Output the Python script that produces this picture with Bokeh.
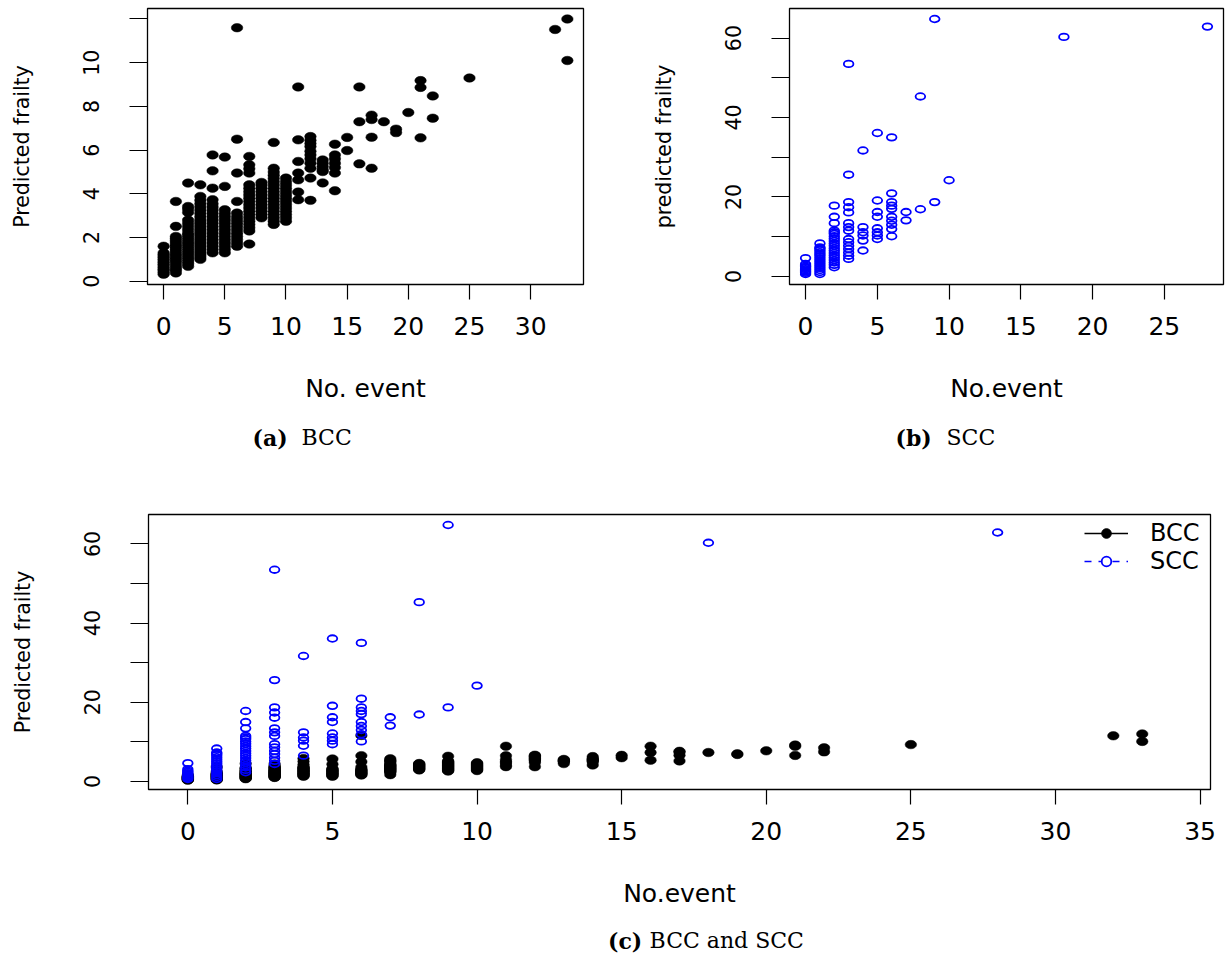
from bokeh.plotting import figure
from bokeh.models import Range1d, FixedTicker, Legend, LegendItem, ColumnDataSource
from bokeh.layouts import column, row
from bokeh.embed import file_html
from bokeh.resources import INLINE
from bokeh.core.properties import value

# ---------------- data ----------------
bcc_events = ([0] * 15 + [1] * 19 + [2] * 24 + [3] * 27 + [4] * 20 + [5] * 16 +
              [6] * 15 + [7] * 20 + [8] * 12 + [9] * 19 + [10] * 14 + [11] * 7 +
              [12] * 11 + [13] * 6 + [14] * 7 + [15] * 2 + [16] * 3 + [17] * 4 +
              [18] * 1 + [19] * 2 + [20] * 1 + [21] * 3 + [22] * 2 + [25] * 1 +
              [32] * 1 + [33] * 2)
bcc_frailty = [
    0.32, 0.40, 0.48, 0.55, 0.62, 0.70, 0.78, 0.85, 0.92, 1.00, 1.08, 1.15, 1.22, 1.30, 1.60,
    0.38, 0.50, 0.60, 0.72, 0.85, 0.95, 1.05, 1.15, 1.25, 1.35, 1.45, 1.55, 1.65, 1.75, 1.85, 1.95, 2.05, 2.51, 3.65,
    0.68, 0.80, 0.90, 1.00, 1.10, 1.20, 1.30, 1.40, 1.50, 1.60, 1.70, 1.80, 1.90, 2.00, 2.10, 2.20, 2.35, 2.50, 2.65, 2.80, 3.15, 3.30, 3.42, 4.49,
    1.00, 1.10, 1.20, 1.30, 1.40, 1.50, 1.60, 1.70, 1.80, 1.90, 2.00, 2.10, 2.20, 2.30, 2.40, 2.50, 2.60, 2.70, 2.80, 2.95, 3.10, 3.25, 3.40, 3.55, 3.70, 3.88, 4.41,
    1.30, 1.45, 1.60, 1.75, 1.90, 2.05, 2.20, 2.35, 2.50, 2.65, 2.80, 2.95, 3.10, 3.25, 3.40, 3.55, 3.73, 4.26, 5.05, 5.78,
    1.30, 1.45, 1.60, 1.75, 1.90, 2.05, 2.20, 2.35, 2.50, 2.65, 2.80, 2.95, 3.10, 3.27, 4.34, 5.68,
    1.60, 1.75, 1.90, 2.05, 2.20, 2.35, 2.50, 2.65, 2.80, 2.95, 3.12, 3.65, 4.95, 6.50, 11.60,
    1.70, 2.30, 2.45, 2.60, 2.75, 2.90, 3.05, 3.20, 3.35, 3.50, 3.65, 3.80, 3.95, 4.10, 4.25, 4.41, 4.95, 5.15, 5.33, 5.71,
    2.90, 3.05, 3.20, 3.35, 3.50, 3.65, 3.80, 3.95, 4.10, 4.25, 4.40, 4.52,
    2.60, 2.75, 2.90, 3.05, 3.20, 3.35, 3.50, 3.65, 3.80, 3.95, 4.10, 4.25, 4.40, 4.55, 4.70, 4.85, 5.00, 5.17, 6.35,
    2.74, 2.90, 3.05, 3.20, 3.35, 3.50, 3.65, 3.80, 3.95, 4.10, 4.25, 4.40, 4.55, 4.72,
    3.73, 4.08, 4.64, 4.95, 5.48, 6.47, 8.89,
    3.70, 4.72, 5.17, 5.40, 5.60, 5.78, 5.95, 6.16, 6.30, 6.45, 6.62,
    4.50, 5.02, 5.10, 5.25, 5.40, 5.55,
    4.14, 4.95, 5.20, 5.40, 5.60, 5.78, 6.27,
    5.98, 6.58,
    5.37, 7.30, 8.89,
    5.17, 6.59, 7.40, 7.60,
    7.30,
    6.80, 6.96,
    7.72,
    6.56, 8.87, 9.18,
    7.46, 8.48,
    9.30,
    11.52,
    10.10, 12.00,
]

scc_events = ([0] * 10 + [1] * 16 + [2] * 20 + [3] * 15 + [4] * 6 + [5] * 8 +
              [6] * 10 + [7] * 2 + [8] * 2 + [9] * 2 + [10] * 1 + [18] * 1 + [28] * 1)
scc_frailty = [
    0.60, 0.90, 1.20, 1.50, 1.80, 2.10, 2.40, 2.70, 3.10, 4.60,
    0.60, 1.10, 1.60, 2.10, 2.60, 3.10, 3.60, 4.10, 4.60, 5.10, 5.60, 6.10, 6.60, 7.00, 7.30, 8.30,
    2.30, 2.90, 3.50, 4.10, 4.70, 5.30, 5.90, 6.50, 7.10, 7.70, 8.30, 8.90, 9.50, 10.10, 10.70, 11.10, 11.50, 13.40, 15.00, 17.80,
    4.40, 5.20, 6.00, 6.90, 7.70, 8.60, 9.40, 11.50, 12.40, 13.40, 16.10, 17.40, 18.70, 25.60, 53.50,
    6.50, 9.00, 10.30, 11.10, 12.40, 31.70,
    9.40, 10.30, 11.10, 12.10, 15.00, 16.20, 19.10, 36.10,
    10.10, 11.90, 13.00, 14.00, 15.00, 17.00, 17.80, 18.70, 20.90, 35.00,
    14.10, 16.20,
    16.90, 45.30,
    18.70, 64.80,
    24.20,
    60.30,
    62.90,
]

a_xticks = [0, 5, 10, 15, 20, 25, 30]
a_yticks = [0, 2, 4, 6, 8, 10, 12]
a_hidden_ylabels = [12]
b_xticks = [0, 5, 10, 15, 20, 25]
b_yticks = [0, 10, 20, 30, 40, 50, 60]
c_xticks = [0, 5, 10, 15, 20, 25, 30, 35]
c_yticks = [0, 10, 20, 30, 40, 50, 60]
hidden_ylabels = [10, 30, 50]
legend_labels = ["BCC", "SCC"]

assert len(bcc_events) == len(bcc_frailty)
assert len(scc_events) == len(scc_frailty)

bcc_src = ColumnDataSource(dict(x=bcc_events, y=bcc_frailty))
scc_src = ColumnDataSource(dict(x=scc_events, y=scc_frailty))

SANS = "DejaVu Sans"
SERIF = "DejaVu Serif"
FS_H = "25px"     # horizontal axis texts
FS_V = "20.5px"   # vertical (rotated) axis texts
BLUE = "#0000FF"


def style_fig(p, xlabel, ylabel, xticks, yticks, hide=()):
    p.grid.visible = False
    p.outline_line_color = "black"
    p.outline_line_width = 1.3
    p.background_fill_color = "white"
    p.border_fill_color = "white"
    for ax in (p.xaxis, p.yaxis):
        ax.axis_line_color = None
        ax.minor_tick_line_color = None
        ax.major_tick_in = 0
        ax.major_tick_line_width = 1.2
        ax.major_tick_line_color = "black"
        ax.major_label_text_font = SANS
        ax.major_label_text_color = "black"
        ax.axis_label_text_font = SANS
        ax.axis_label_text_font_style = "normal"
        ax.axis_label_text_color = "black"
    p.xaxis.major_label_text_font_size = FS_H
    p.xaxis.axis_label_text_font_size = FS_H
    p.yaxis.major_label_text_font_size = FS_V
    p.yaxis.axis_label_text_font_size = FS_V
    p.xaxis.major_tick_out = 15
    p.yaxis.major_tick_out = 18
    p.xaxis.ticker = FixedTicker(ticks=xticks)
    p.yaxis.ticker = FixedTicker(ticks=yticks)
    p.yaxis.major_label_orientation = "vertical"
    p.xaxis.major_label_standoff = 17
    p.yaxis.major_label_standoff = 30
    p.xaxis.axis_label_standoff = 36
    p.yaxis.axis_label_standoff = 47
    p.xaxis.axis_label = xlabel
    p.yaxis.axis_label = ylabel
    if hide:
        p.yaxis.major_label_overrides = {float(v): "" for v in hide}


def dots(p, src):
    p.ellipse(x="x", y="y", width=11.5, height=8.5, width_units="screen",
              height_units="screen", source=src, fill_color="black",
              line_color="black", line_width=0.5)


def rings(p, src):
    p.ellipse(x="x", y="y", width=9.6, height=6.6, width_units="screen",
              height_units="screen", source=src, fill_color=None,
              line_color=BLUE, line_width=1.8)


# ---------------- panel (a) ----------------
pa = figure(width=612, height=410, x_range=Range1d(-1.32, 34.32),
            y_range=Range1d(-0.15, 12.48), output_backend="svg",
            toolbar_location=None, min_border_left=147, min_border_right=29,
            min_border_top=8, min_border_bottom=126)
style_fig(pa, "No. event", "Predicted frailty", a_xticks, a_yticks, a_hidden_ylabels)
dots(pa, bcc_src)

# ---------------- panel (b) ----------------
pb = figure(width=613, height=410, x_range=Range1d(-1.12, 29.12),
            y_range=Range1d(-2.05, 67.45), output_backend="svg",
            toolbar_location=None, min_border_left=177, min_border_right=2,
            min_border_top=8, min_border_bottom=126)
style_fig(pb, "No.event", "predicted frailty", b_xticks, b_yticks, hidden_ylabels)
rings(pb, scc_src)

# ---------------- panel (c) ----------------
pc = figure(width=1225, height=460, x_range=Range1d(-1.36, 35.36),
            y_range=Range1d(-2.05, 67.45), output_backend="svg",
            toolbar_location=None, min_border_left=148, min_border_right=15,
            min_border_top=54, min_border_bottom=131)
style_fig(pc, "No.event", "Predicted frailty", c_xticks, c_yticks, hidden_ylabels)
dots(pc, bcc_src)
rings(pc, scc_src)

# legend key renderers: a single point placed outside the visible range
off = [-100]
lg_line1 = pc.line(off, off, line_color="black", line_width=1.3)
lg_dot1 = pc.scatter(off, off, marker="circle", size=10, fill_color="black",
                     line_color="black")
lg_line2 = pc.line(off, off, line_color=BLUE, line_width=1.3, line_dash="7 7")
lg_dot2 = pc.scatter(off, off, marker="circle", size=10, fill_color="white",
                     line_color=BLUE, line_width=1.8)
legend = Legend(items=[LegendItem(label=legend_labels[0], renderers=[lg_line1, lg_dot1]),
                       LegendItem(label=legend_labels[1], renderers=[lg_line2, lg_dot2])],
                location=(936, 214), glyph_width=44, glyph_height=24,
                label_height=24, label_standoff=22, spacing=0, padding=0,
                margin=0, border_line_color=None, background_fill_alpha=0,
                label_text_font=SANS, label_text_font_size="24px",
                label_text_color="black")
pc.add_layout(legend)


# ---------------- captions ----------------
def caption(w, h, parts):
    f = figure(width=w, height=h, x_range=Range1d(0, w), y_range=Range1d(h, 0),
               output_backend="svg", toolbar_location=None, min_border=0,
               x_axis_location=None, y_axis_location=None)
    f.grid.visible = False
    f.outline_line_color = None
    for x, y, txt, style in parts:
        f.text(x=[x], y=[y], text=[txt], text_font=value(SERIF),
               text_font_size="22px", text_font_style=style,
               text_baseline="middle", text_align="left", text_color="black")
    return f


cap_a = caption(612, 50, [(252, 27, "(a)", "bold"), (301, 27, "BCC", "normal")])
cap_b = caption(613, 50, [(283, 27, "(b)", "bold"), (334, 27, "SCC", "normal")])
cap_c = caption(1225, 42, [(530, 20, "(c)", "bold"), (578, 20, "BCC and SCC", "normal")])

layout = column(row(pa, pb), row(cap_a, cap_b), pc, cap_c)

open("out.html", "w").write(file_html(layout, INLINE))
